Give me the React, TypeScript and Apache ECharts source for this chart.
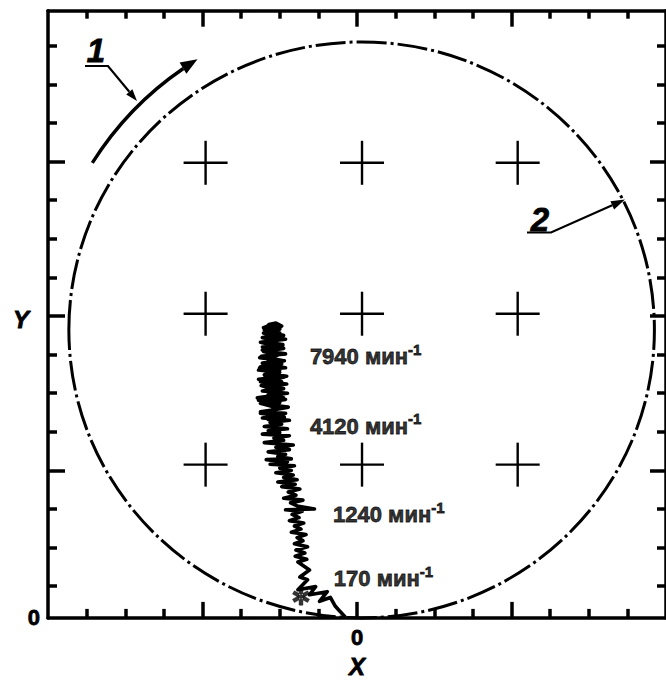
import React, { useEffect, useRef } from "react";
import * as echarts from "echarts";

// Axis ranges (minor-tick units)
const X_MIN = -8;
const X_MAX = 8;
const Y_MIN = 0;
const Y_MAX = 15.73;

// Tick positions
const X_MAJOR_TICKS = [-4, 0, 4];
const X_MINOR_TICKS = [-7, -6, -5, -3, -2, -1, 1, 2, 3, 5, 6, 7];
const Y_MAJOR_TICKS = [3.82, 7.82, 11.82];
const Y_MINOR_TICKS = [0.82, 1.82, 2.82, 4.82, 5.82, 6.82, 8.82, 9.82, 10.82, 12.82, 13.82, 14.82];
const X_TICK_LABELS = [0];
const Y_TICK_LABELS = [0];

// Crosses (reference marks)
const CROSS_X = [-3.92, 0.13, 4.16];
const CROSS_Y = [3.97, 7.88, 11.79];

// Boundary circle: cx, cy, rx, ry
const CIRCLE = [[0.12, 7.46, 7.58, 7.46]];

// Start point (asterisk)
const START_POINT = [[-1.45, 0.55]];

// Speed labels
const SPEED_VALUES = ["7940", "4120", "1240", "170"];
const SPEED_X = [-1.22, -1.22, -0.62, -0.6];
const SPEED_Y = [6.9, 5.1, 2.8, 1.14];

// Trajectory of the centre (x, y)
const TRAJECTORY = [
  [-0.3, 0.02], [-0.45, 0.18], [-0.56, 0.3], [-0.69, 0.53], [-0.97, 0.43], [-0.77, 0.68],
  [-1.23, 0.6], [-1.07, 0.81], [-1.53, 0.73], [-1.28, 0.99], [-1.48, 1.06], [-1.23, 1.24],
  [-1.53, 1.45], [-1.3, 1.52], [-1.6, 1.6], [-1.35, 1.68], [-1.58, 1.76], [-1.28, 1.84],
  [-1.62, 1.92], [-1.4, 2.0], [-1.55, 2.08], [-1.32, 2.16], [-1.7, 2.22], [-1.45, 2.3],
  [-1.62, 2.38], [-1.38, 2.46], [-1.75, 2.52], [-1.5, 2.6], [-1.68, 2.68], [-1.42, 2.76],
  [-1.85, 2.8], [-1.1, 2.82], [-1.55, 2.9], [-1.72, 2.98], [-1.4, 3.05], [-1.9, 3.1],
  [-1.58, 3.18], [-1.78, 3.26], [-1.48, 3.34],
  [-1.95, 3.4], [-1.6, 3.46], [-2.05, 3.52], [-1.55, 3.58], [-1.9, 3.64], [-1.65, 3.7],
  [-2.1, 3.76], [-1.7, 3.82], [-2.0, 3.88], [-1.62, 3.94], [-2.25, 3.98], [-1.8, 4.04],
  [-2.35, 4.1], [-1.7, 4.12], [-2.05, 4.18], [-1.85, 4.24], [-2.3, 4.3], [-1.75, 4.36],
  [-2.1, 4.42], [-1.65, 4.48], [-2.4, 4.54], [-1.9, 4.6], [-2.15, 4.66], [-1.75, 4.72],
  [-2.45, 4.76], [-2.0, 4.8],
  [-2.3, 4.85], [-1.8, 4.9], [-2.4, 4.96], [-1.95, 5.02], [-2.25, 5.06], [-1.75, 5.12],
  [-2.45, 5.18], [-2.05, 5.24], [-1.85, 5.3], [-2.5, 5.34], [-2.1, 5.4], [-1.78, 5.46],
  [-2.35, 5.52], [-2.0, 5.58], [-2.55, 5.64], [-1.9, 5.7], [-2.25, 5.76], [-1.8, 5.82],
  [-2.45, 5.88], [-2.05, 5.94], [-2.3, 6.0], [-1.82, 6.06], [-2.5, 6.12], [-2.15, 6.18],
  [-1.88, 6.24], [-2.4, 6.3], [-2.0, 6.36], [-2.55, 6.42], [-1.85, 6.48], [-2.25, 6.54],
  [-2.45, 6.6], [-1.9, 6.66], [-2.2, 6.72], [-2.48, 6.78], [-1.85, 6.84], [-2.3, 6.9],
  [-2.05, 6.96], [-2.45, 7.02], [-1.92, 7.08], [-2.35, 7.14], [-2.1, 7.2], [-2.45, 7.26],
  [-1.9, 7.32], [-2.3, 7.38], [-2.05, 7.44], [-2.4, 7.5], [-1.98, 7.54], [-2.28, 7.6],
  [-2.1, 7.64], [-1.95, 7.56],
  [-2.4, 7.46], [-2.0, 7.38], [-2.35, 7.3], [-1.85, 7.22], [-2.5, 7.14], [-2.15, 7.06],
  [-1.9, 6.98], [-2.42, 6.9], [-2.08, 6.82], [-2.52, 6.74], [-1.88, 6.66], [-2.28, 6.58],
  [-2.5, 6.5], [-2.0, 6.42], [-2.35, 6.34], [-1.82, 6.26], [-2.55, 6.18], [-2.18, 6.1],
  [-2.42, 6.02], [-1.9, 5.94], [-2.32, 5.86], [-2.02, 5.78], [-2.58, 5.7], [-2.12, 5.62],
  [-2.38, 5.54], [-1.8, 5.46], [-2.22, 5.38], [-2.5, 5.3], [-1.95, 5.22], [-2.3, 5.14],
  [-1.88, 5.2], [-2.4, 5.32], [-2.05, 5.44], [-2.5, 5.56], [-1.85, 5.66], [-2.3, 5.78],
  [-2.08, 5.9], [-2.48, 6.02], [-1.95, 6.12], [-2.38, 6.24], [-2.1, 6.36], [-2.52, 6.48],
  [-1.95, 6.58], [-2.32, 6.7], [-2.02, 6.82], [-2.45, 6.94], [-1.92, 7.06], [-2.35, 7.16],
  [-2.08, 7.28], [-2.42, 7.38], [-2.0, 7.48], [-2.3, 7.58], [-2.15, 7.62], [-2.42, 7.52],
  [-2.2, 7.44],
];

const FONT = "Liberation Sans, Arial, sans-serif";
const BLACK = "#000";
const HEAVY = { textBorderColor: BLACK, textBorderWidth: 0.8 };

const ASTERISK =
  "path://M-2.2,-10L2.2,-10L2.2,10L-2.2,10Z" +
  "M-9.76,-3.09L7.56,6.91L9.76,3.09L-7.56,-6.91Z" +
  "M-7.56,6.91L9.76,-3.09L7.56,-6.91L-9.76,3.09Z";

function tickAxis(dim: "x" | "y", position: string, values: number[], length: number, showLine: boolean, labels: number[] | null, extra: any = {}) {
  const isX = dim === "x";
  return {
    type: "value",
    position,
    min: isX ? X_MIN : Y_MIN,
    max: isX ? X_MAX : Y_MAX,
    axisLine: { show: showLine, onZero: false, lineStyle: { color: BLACK, width: 3.5 } },
    axisTick: {
      show: true,
      inside: true,
      length,
      customValues: values,
      lineStyle: { color: BLACK, width: 3.5 },
    },
    axisLabel: labels
      ? {
          show: true,
          customValues: labels,
          color: BLACK,
          fontSize: 22,
          fontWeight: "bold",
          fontFamily: FONT,
          margin: isX ? 9 : 8,
          ...HEAVY,
        }
      : { show: false },
    splitLine: { show: false },
    ...extra,
  };
}

export default function App() {
  const ref = useRef<HTMLDivElement>(null);

  useEffect(() => {
    if (!ref.current) return;
    const chart = echarts.init(ref.current, null, { renderer: "svg" });

    const crossData = CROSS_Y.flatMap((y) => CROSS_X.map((x) => [x, y]));
    const labelData = SPEED_VALUES.map((v, i) => ({ name: v, value: [SPEED_X[i], SPEED_Y[i]] }));

    const nameStyle = { color: BLACK, fontSize: 24, fontWeight: "bold", fontStyle: "italic", fontFamily: FONT, ...HEAVY };
    const annotFont = `italic bold 33px ${FONT}`;

    const option: any = {
      animation: false,
      backgroundColor: "#fff",
      textStyle: { fontFamily: FONT },
      grid: { left: 48, right: -6, top: 10.7, bottom: 57.3 },
      xAxis: [
        tickAxis("x", "bottom", X_MAJOR_TICKS, 16, true, X_TICK_LABELS, {
          name: "X",
          nameLocation: "middle",
          nameGap: 34,
          nameTextStyle: nameStyle,
        }),
        tickAxis("x", "bottom", X_MINOR_TICKS, 9, false, null),
        tickAxis("x", "top", X_MAJOR_TICKS, 16, true, null),
        tickAxis("x", "top", X_MINOR_TICKS, 8, false, null),
      ],
      yAxis: [
        tickAxis("y", "left", Y_MAJOR_TICKS, 17, true, Y_TICK_LABELS),
        tickAxis("y", "left", Y_MINOR_TICKS, 9, false, null),
        tickAxis("y", "right", Y_MAJOR_TICKS, 16, true, null),
        tickAxis("y", "right", Y_MINOR_TICKS, 9, false, null),
      ],
      series: [
        {
          type: "custom",
          name: "boundary",
          xAxisIndex: 0,
          yAxisIndex: 0,
          data: CIRCLE,
          silent: true,
          renderItem: (params: any, api: any) => {
            const c = api.coord([api.value(0), api.value(1)]);
            const s = api.size([api.value(2), api.value(3)]);
            return {
              type: "ellipse",
              shape: { cx: c[0], cy: c[1], rx: s[0], ry: s[1] },
              style: { fill: "none", stroke: BLACK, lineWidth: 3, lineDash: [30, 4, 3, 4] },
            };
          },
        },
        {
          type: "custom",
          name: "crosses",
          xAxisIndex: 0,
          yAxisIndex: 0,
          data: crossData,
          silent: true,
          renderItem: (params: any, api: any) => {
            const p = api.coord([api.value(0), api.value(1)]);
            const st = { stroke: BLACK, lineWidth: 2.4 };
            return {
              type: "group",
              children: [
                { type: "line", shape: { x1: p[0] - 22, y1: p[1], x2: p[0] + 22, y2: p[1] }, style: st },
                { type: "line", shape: { x1: p[0], y1: p[1] - 22, x2: p[0], y2: p[1] + 22 }, style: st },
              ],
            };
          },
        },
        {
          type: "line",
          name: "trajectory",
          xAxisIndex: 0,
          yAxisIndex: 0,
          data: TRAJECTORY,
          symbol: "none",
          silent: true,
          lineStyle: { color: BLACK, width: 3.6, join: "round" },
        },
        {
          type: "scatter",
          name: "start",
          xAxisIndex: 0,
          yAxisIndex: 0,
          data: START_POINT,
          symbol: ASTERISK,
          symbolSize: 17,
          silent: true,
          z: 5,
          itemStyle: { color: BLACK, borderColor: BLACK, borderWidth: 0.5 },
        },
        {
          type: "scatter",
          name: "speeds",
          xAxisIndex: 0,
          yAxisIndex: 0,
          data: labelData,
          symbolSize: 0,
          silent: true,
          label: {
            show: true,
            position: "right",
            distance: 0,
            offset: [0, 1],
            formatter: (p: any) => `{a|${p.name} мин}{s|-1}`,
            rich: {
              a: { fontSize: 22, lineHeight: 22, fontWeight: "bold", color: BLACK, fontFamily: FONT, padding: [8, 0, 0, 0], ...HEAVY },
              s: { fontSize: 15, lineHeight: 15, fontWeight: "bold", color: BLACK, fontFamily: FONT, verticalAlign: "top", ...HEAVY },
            },
          },
        },
      ],
      graphic: [
        {
          type: "text",
          z: 100,
          style: { text: "Y", x: 21, y: 319, font: `italic bold 24px ${FONT}`, fill: BLACK, stroke: BLACK, lineWidth: 0.8, align: "center", verticalAlign: "middle" },
        },
        {
          type: "text",
          z: 100,
          style: { text: "1", x: 96, y: 50, font: annotFont, fill: BLACK, stroke: BLACK, lineWidth: 0.8, align: "center", verticalAlign: "middle" },
        },
        {
          type: "text",
          z: 100,
          style: { text: "2", x: 540, y: 219, font: annotFont, fill: BLACK, stroke: BLACK, lineWidth: 0.8, align: "center", verticalAlign: "middle" },
        },
        {
          type: "polyline",
          z: 100,
          shape: { points: [[85, 66], [108, 66], [129.3, 91.8]] },
          style: { stroke: BLACK, lineWidth: 2.2, fill: "none" },
        },
        {
          type: "polygon",
          z: 100,
          shape: { points: [[137, 101], [126.2, 94.4], [132.4, 89.2]] },
          style: { fill: BLACK },
        },
        {
          type: "arc",
          z: 100,
          shape: {
            cx: 364.8,
            cy: 334.5,
            r: 322,
            startAngle: (212.2 * Math.PI) / 180,
            endAngle: (235.7 * Math.PI) / 180,
            clockwise: true,
          },
          style: { stroke: BLACK, lineWidth: 3.4, fill: "none" },
        },
        {
          type: "polygon",
          z: 100,
          shape: { points: [[197.5, 59.3], [186.4, 73.7], [179.6, 62.6]] },
          style: { fill: BLACK },
        },
        {
          type: "polyline",
          z: 100,
          shape: { points: [[527, 232.5], [551, 232.5], [612.2, 205.3]] },
          style: { stroke: BLACK, lineWidth: 2.2, fill: "none" },
        },
        {
          type: "polygon",
          z: 100,
          shape: { points: [[625, 199.5], [614.1, 209.4], [610.4, 201.2]] },
          style: { fill: BLACK },
        },
      ],
    };

    chart.setOption(option);
    return () => chart.dispose();
  }, []);

  return (
    <div
      ref={ref}
      style={{ position: "absolute", left: 0, top: 0, width: 666, height: 684, background: "#fff" }}
    />
  );
}
